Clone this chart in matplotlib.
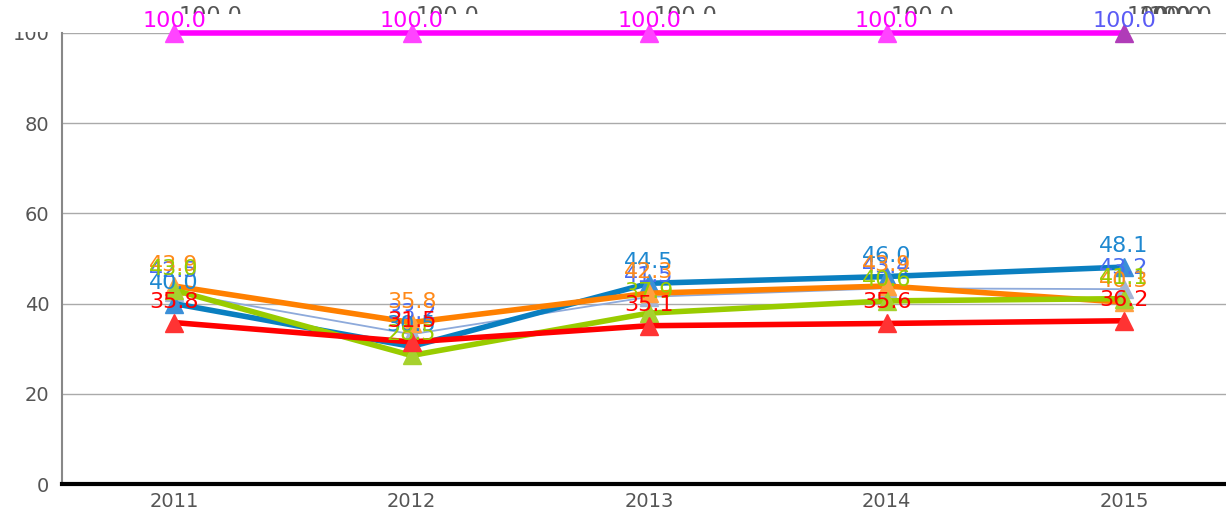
import matplotlib.pyplot as plt
from matplotlib.patches import Rectangle

years = ["2011", "2012", "2013", "2014", "2015"]

blue = [40.0, 30.5, 44.5, 46.0, 48.1]
orange = [43.9, 35.8, 42.3, 43.9, 40.3]
green = [43.0, 28.5, 37.9, 40.6, 41.1]
red = [35.8, 31.5, 35.1, 35.6, 36.2]
thin = [42.5, 33.2, 41.5, 43.4, 43.2]
magenta = [100.0, 100.0, 100.0, 100.0, 100.0]

plt.rcParams['font.family'] = ['DejaVu Sans']

fig = plt.figure(figsize=(12.26, 5.18), dpi=100)
ax = fig.add_axes([62 / 1226, 1 - 484 / 518, 1 - 62 / 1226, (484 - 33) / 518])
x = list(range(len(years)))

ax.set_xlim(-0.4716, 4.429)
ax.set_ylim(0, 100)
ax.set_yticks([0, 20, 40, 60, 80, 100])
ax.set_xticks(x)
ax.set_xticklabels(years)
ax.grid(axis='y', color='#aaaaaa', lw=1)
ax.set_axisbelow(True)
ax.tick_params(axis='both', length=0, labelsize=14, colors='#555555')
ax.tick_params(axis='y', pad=9)
ax.tick_params(axis='x', pad=6)
for s in ['top', 'right']:
    ax.spines[s].set_visible(False)
ax.spines['left'].set_color('#888888')
ax.spines['left'].set_linewidth(1.5)
ax.spines['bottom'].set_color('black')
ax.spines['bottom'].set_linewidth(3)

# (values, line colour, line width, marker colour, label colour)
series = [
    (thin, '#8eaadb', 1.3, '#a3b5d6', '#4a6cf0'),
    (blue, '#0a7fc0', 4, '#3a8fd8', '#1e88d0'),
    (orange, '#ff8000', 4, '#ffa040', '#ff8a1a'),
    (green, '#99cc00', 4, '#a6d12e', '#99cc00'),
    (red, '#ff0000', 4, '#ff3333', '#ff0000'),
]

z = 3
for vals, lc, lw, mc, tc in series:
    ax.plot(x, vals, color=lc, lw=lw, zorder=z, solid_capstyle='round')
    ax.plot(x, vals, ls='none', marker='^', ms=13, color=mc, zorder=z + 0.5, clip_on=False)
    for xi, v in zip(x, vals):
        ax.annotate(f"{v:.1f}", (xi, v), xytext=(0, 21), textcoords='offset pixels',
                    ha='center', va='center', fontsize=16, color=tc, zorder=8,
                    annotation_clip=False)
    z += 1

# top series at 100
ax.plot(x, magenta, color='#ff00ff', lw=4, zorder=z, clip_on=False)
mk_cols = ['#ff44ff'] * 4 + ['#b03cb8']
lab_cols = ['#ff00ff'] * 4 + ['#5b5bf5']
for xi, v, mc, tc in zip(x, magenta, mk_cols, lab_cols):
    ax.plot([xi], [v], ls='none', marker='^', ms=13, color=mc, zorder=z + 0.5, clip_on=False)
    ax.annotate(f"{v:.1f}", (xi, v), xytext=(0, 12), textcoords='offset pixels',
                ha='center', va='center', fontsize=16, color=tc, zorder=9,
                annotation_clip=False)

# grey labels peeking above, partly hidden
gray_offsets = [[36], [36], [36], [36], [34, 46, 56]]
for xi, v, offs in zip(x, magenta, gray_offsets):
    for dx in offs:
        ax.annotate(f"{v:.1f}", (xi, v), xytext=(dx, 17), textcoords='offset pixels',
                    ha='center', va='center', fontsize=16, color='#555555', zorder=1,
                    annotation_clip=False)
ax.add_patch(Rectangle((0, 518 - 32), 1226, 18, transform=None, facecolor='white',
                       edgecolor='none', zorder=2, clip_on=False))

fig.savefig('out.png', dpi=100)
